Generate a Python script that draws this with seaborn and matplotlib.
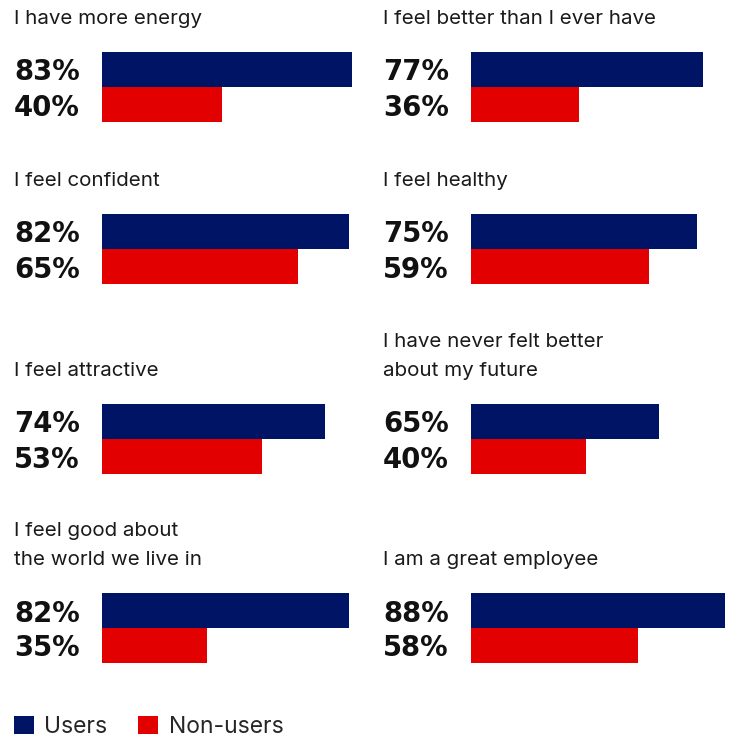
import matplotlib
matplotlib.use("Agg")
import matplotlib.pyplot as plt
from matplotlib.patches import Patch
import seaborn as sns
import pandas as pd

# survey statements and shares (%)
statements = ["I have more energy", "I feel better than I ever have",
              "I feel confident", "I feel healthy",
              "I feel attractive", "I have never felt better\nabout my future",
              "I feel good about\nthe world we live in", "I am a great employee"]
users = [83, 77, 82, 75, 74, 65, 82, 88]
non_users = [40, 36, 65, 59, 53, 40, 35, 58]
groups = ["Users", "Non-users"]
colors = ["#001466", "#e30000"]

W, H = 732, 740
sns.set_theme(style="white")
plt.rcParams['font.family'] = ['Inter', 'DejaVu Sans']

fig = plt.figure(figsize=(W / 100, H / 100), dpi=100)

col_x = [102, 471]
row_top = [52, 214, 404, 593]
bar_h = 35
ax_w = 260
px_per_pct = [[3.01, 3.01], [3.01, 3.01], [3.01, 2.885], [3.01, 2.885]]

for k, title in enumerate(statements):
    r, c = divmod(k, 2)
    left, top = col_x[c], row_top[r]
    ax = fig.add_axes([left / W, 1 - (top + 2 * bar_h) / H, ax_w / W, 2 * bar_h / H])
    df = pd.DataFrame({"group": groups, "value": [users[k], non_users[k]]})
    sns.barplot(data=df, x="value", y="group", hue="group", palette=colors,
                width=1.0, legend=False, ax=ax, saturation=1, linewidth=0)
    ax.set_xlim(0, ax_w / px_per_pct[r][c])
    ax.set_ylim(1.5, -0.5)
    ax.axis("off")
    for i, v in enumerate(df["value"]):
        ax.annotate(f"{v}%", xy=(col_x[c] - 88, i), xycoords=("figure pixels", "data"),
                    xytext=(0, -3), textcoords="offset pixels",
                    ha="left", va="center", fontsize=19.8, fontweight="heavy",
                    family="DejaVu Sans", color="#111111")
    nlines = title.count("\n") + 1
    ty = top - 33 - (nlines - 1) * 29 / 2
    fig.text((col_x[c] - 88) / W, 1 - ty / H, title, ha="left", va="center",
             fontsize=14.8, color="#1a1a1a", linespacing=1.76)

handles = [Patch(facecolor=col, edgecolor="none") for col in colors]
fig.legend(handles, groups, loc="center left", bbox_to_anchor=(5 / W, 1 - 727 / H),
           ncol=2, frameon=False, fontsize=16.5, handlelength=0.87, handleheight=0.82,
           handletextpad=0.45, columnspacing=1.35, borderaxespad=0)

fig.savefig("out.png", dpi=100)
